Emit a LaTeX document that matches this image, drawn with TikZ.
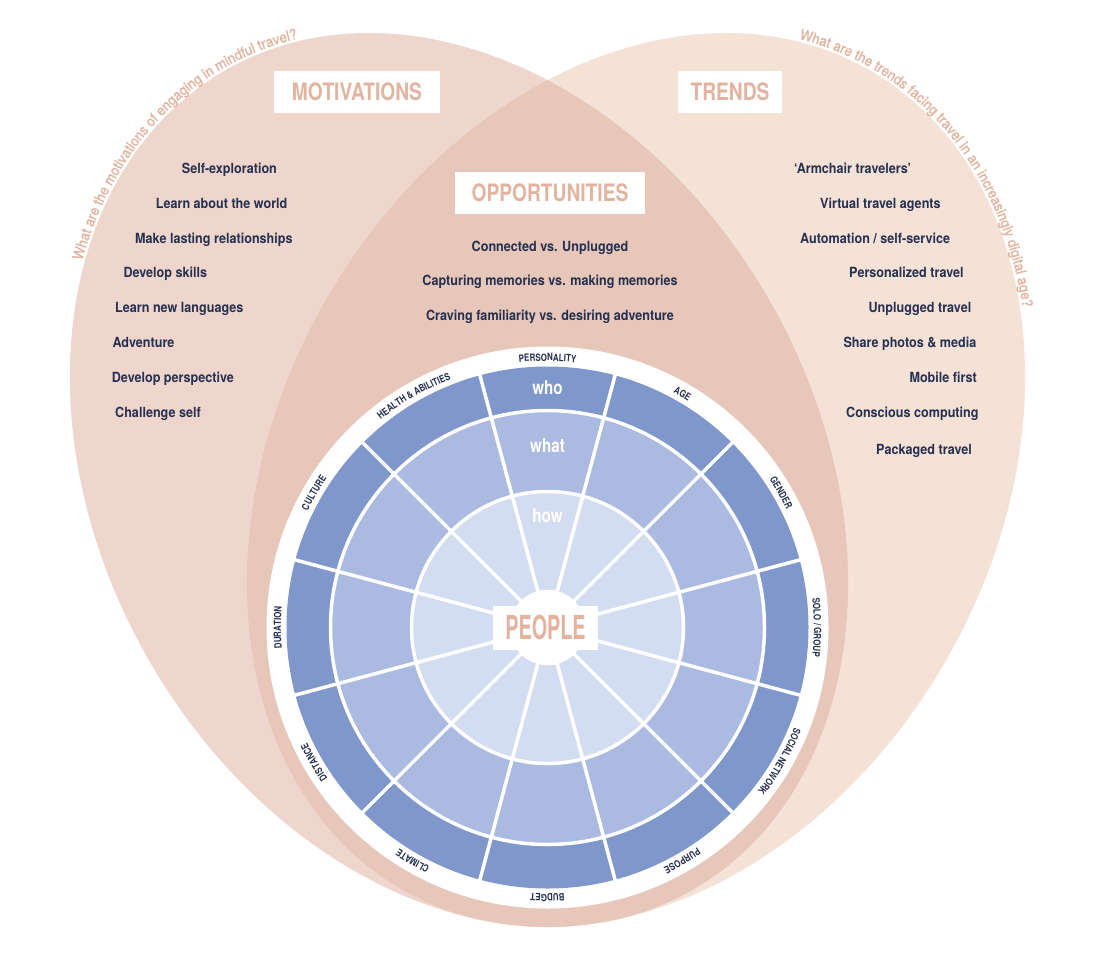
\documentclass[tikz,border=0pt]{standalone}
\usepackage{fontspec}
\setmainfont{TeX Gyre Heros}
\newfontfamily\itemfont[FakeStretch=0.9]{TeX Gyre Heros}
\newfontfamily\headfont[FakeStretch=0.8]{TeX Gyre Heros}
\newfontfamily\peoplefont[FakeStretch=0.6]{TeX Gyre Heros}
\newfontfamily\wheelfont[FakeStretch=0.8]{TeX Gyre Heros}
\newfontfamily\questfont[FakeStretch=0.92,FakeBold=1.2]{TeX Gyre Heros}
\usetikzlibrary{decorations.text}
\definecolor{leftpink}{RGB}{239,214,204}
\definecolor{rightpink}{RGB}{245,226,215}
\definecolor{overpink}{RGB}{230,199,185}
\definecolor{headpink}{RGB}{226,180,160}
\definecolor{navy}{RGB}{38,48,80}
\definecolor{darkblue}{RGB}{127,151,203}
\definecolor{midblue}{RGB}{170,186,224}
\definecolor{lightblue}{RGB}{210,221,241}
\definecolor{centerpink}{RGB}{238,196,172}
\newcommand\leftshape{[rotate around={-60.5:(459,-480)}] (459,-480) ellipse[x radius=471.7, y radius=358.7]}
\newcommand\rightshape{[rotate around={60.5:(636,-480)}] (636,-480) ellipse[x radius=471.7, y radius=358.7]}
\newcommand\wheelfmt{\wheelfont\bfseries\fontsize{10}{12}\selectfont}
\newcommand\questfmt{\questfont\fontsize{14.5}{16}\selectfont}
\newcommand\wlabel[2]{\path[decorate,decoration={text along path,text align=center,text color=navy,text={|\wheelfmt|#2}}] (C) ++({#1+40}:266.5) arc[start angle={#1+40}, end angle={#1-40}, radius=266.5];}
\begin{document}
\begin{tikzpicture}[x=1pt,y=1pt,
  sep/.style={white, line width=3.5pt},
  item/.style={font=\itemfont\bfseries\fontsize{14}{16}\selectfont, text=navy, inner sep=0pt},
  headbox/.style={fill=white, text=headpink, font=\headfont\bfseries\fontsize{24}{28}\selectfont, inner sep=0pt, text height=17.2pt, text depth=0pt},
  ring/.style={font=\headfont\bfseries\fontsize{19}{22}\selectfont, text=white, inner sep=0pt}]
\useasboundingbox (0,0) rectangle (1100,-961);
% the two shapes and their overlap
\fill[leftpink] \leftshape;
\fill[rightpink] \rightshape;
\begin{scope}
  \clip \leftshape;
  \fill[overpink] \rightshape;
\end{scope}
% wheel
\coordinate (C) at (547.5,-627.5);
\fill[white] (C) circle[radius=281];
\fill[darkblue] (C) circle[radius=261];
\fill[midblue] (C) circle[radius=217];
\fill[lightblue] (C) circle[radius=136];
\foreach \a in {15,45,...,345} \draw[sep] (C) -- ++(\a:262);
\draw[sep] (C) circle[radius=217];
\draw[sep] (C) circle[radius=136];
\filldraw[fill=centerpink, sep] (C) circle[radius=36];
\node[ring] (who) at (547.5,-388) {who};
\node[ring] (what) at (547.5,-446) {what};
\node[ring] (how) at (547.5,-516) {how};
\node[fill=white, minimum width=105pt, minimum height=44pt, inner sep=0pt, text=headpink, font=\peoplefont\bfseries\fontsize{33}{36}\selectfont, text height=23.5pt, text depth=0pt] (people) at (545.5,-628) {PEOPLE};
\wlabel{90}{PERSONALITY}
\wlabel{60}{AGE}
\wlabel{30}{GENDER}
\wlabel{0}{SOLO / GROUP}
\wlabel{-30}{SOCIAL NETWORK}
\wlabel{-60}{PURPOSE}
\wlabel{-90}{BUDGET}
\wlabel{-120}{CLIMATE}
\wlabel{-150}{DISTANCE}
\wlabel{180}{DURATION}
\wlabel{150}{CULTURE}
\wlabel{120}{HEALTH {\&} ABILITIES}
% headings
\node[headbox, minimum width=166pt, minimum height=42pt] (mot) at (357,-91.5) {MOTIVATIONS};
\node[headbox, minimum width=104pt, minimum height=42pt] (tre) at (730,-91.5) {TRENDS};
\node[headbox, minimum width=190pt, minimum height=42.5pt] (opp) at (550,-193) {OPPORTUNITIES};
% motivations
\node[item, anchor=base west] (m1) at (181.7,-173.3) {Self-exploration};
\node[item, anchor=base west] (m2) at (155.7,-208.3) {Learn about the world};
\node[item, anchor=base west] (m3) at (135,-243.3) {Make lasting relationships};
\node[item, anchor=base west] (m4) at (123.3,-277.7) {Develop skills};
\node[item, anchor=base west] (m5) at (115,-312.3) {Learn new languages};
\node[item, anchor=base west] (m6) at (112.3,-347.3) {Adventure};
\node[item, anchor=base west] (m7) at (111.7,-382.3) {Develop perspective};
\node[item, anchor=base west] (m8) at (115,-417.7) {Challenge self};
% trends
\node[item, anchor=base west] (t1) at (794,-173.3) {‘Armchair travelers’};
\node[item, anchor=base west] (t2) at (820,-208.3) {Virtual travel agents};
\node[item, anchor=base west] (t3) at (800,-243.3) {Automation / self-service};
\node[item, anchor=base west] (t4) at (849,-277.7) {Personalized travel};
\node[item, anchor=base west] (t5) at (868.3,-312.3) {Unplugged travel};
\node[item, anchor=base west] (t6) at (843.3,-347.3) {Share photos \& media};
\node[item, anchor=base west] (t7) at (909.3,-382.3) {Mobile first};
\node[item, anchor=base west] (t8) at (846,-417.7) {Conscious computing};
\node[item, anchor=base west] (t9) at (876,-454.3) {Packaged travel};
% opportunities
\node[item, anchor=base] (o1) at (550,-251) {Connected vs. Unplugged};
\node[item, anchor=base] (o2) at (550,-285.7) {Capturing memories vs. making memories};
\node[item, anchor=base] (o3) at (550,-320.3) {Craving familiarity vs. desiring adventure};
% questions along the outlines
\path[decorate, decoration={text along path, text align=left, text color=headpink,
  text={|\questfmt|What are the motivations of engaging in mindful travel?}}]
  plot[smooth, variable=\t, domain=0:85, samples=50]
  ({459 + 474.7*cos(217.5-\t)*0.492 + 361.7*sin(217.5-\t)*0.870},
   {-480 - 474.7*cos(217.5-\t)*0.870 + 361.7*sin(217.5-\t)*0.492});
\path[decorate, decoration={text along path, text align=left, text color=headpink,
  text={|\questfmt|What are the trends facing travel in an increasingly digital age?}}]
  plot[smooth, variable=\t, domain=0:85, samples=50]
  ({636 + 474.7*cos(12-\t)*0.492 - 361.7*sin(12-\t)*0.870},
   {-480 + 474.7*cos(12-\t)*0.870 + 361.7*sin(12-\t)*0.492});
\end{tikzpicture}
\end{document}
